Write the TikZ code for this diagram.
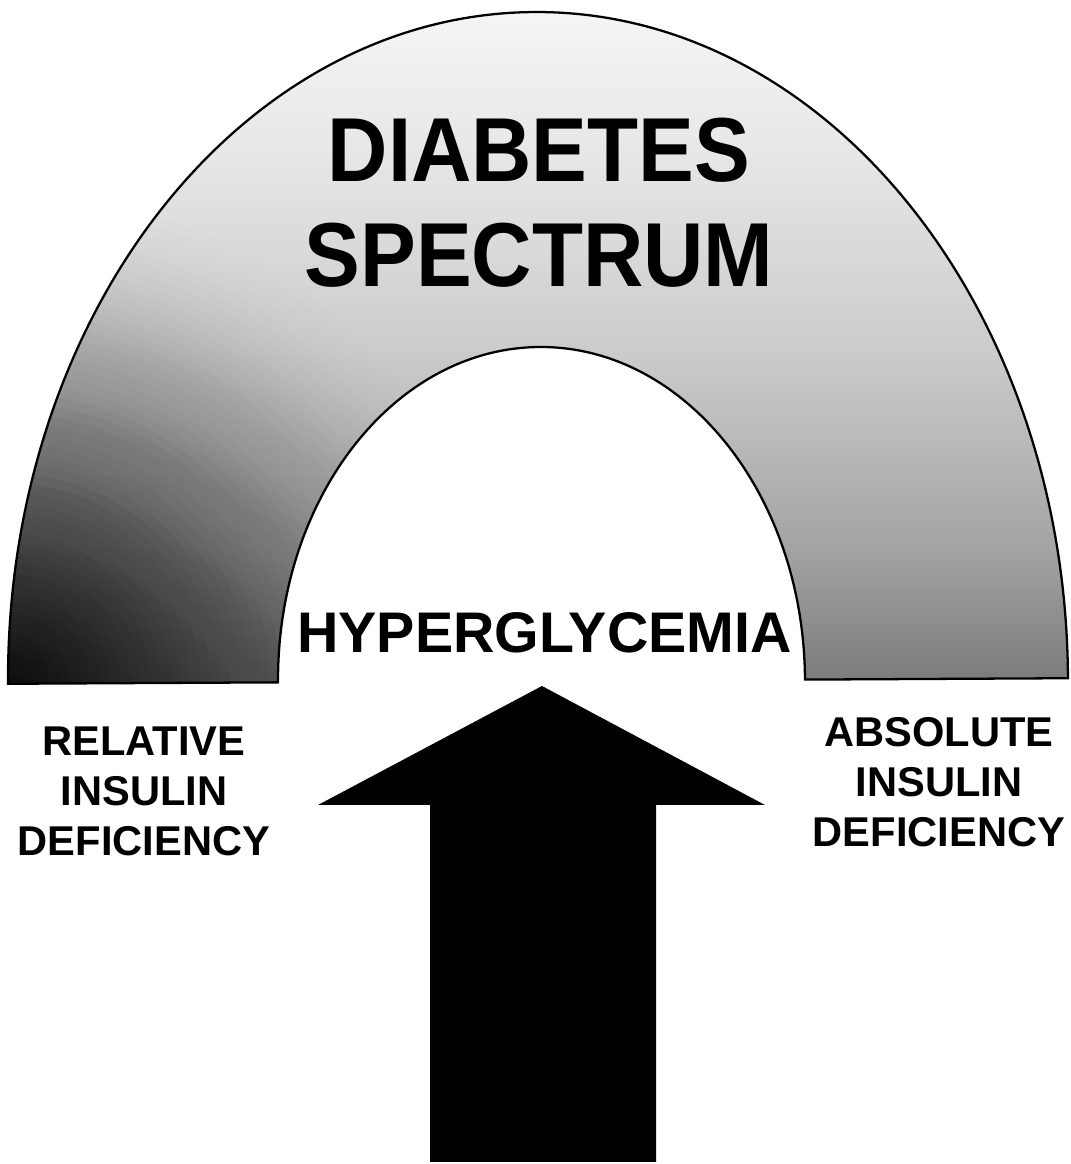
\documentclass[tikz,border=0pt]{standalone}
\usepackage{fontspec}
\setmainfont{Liberation Sans}
\pgfdeclareverticalshading{archshade}{100bp}{color(0bp)=(black!52); color(25bp)=(black!52);
  color(35bp)=(black!36); color(50bp)=(black!20); color(65bp)=(black!9); color(75bp)=(black!4);
  color(100bp)=(black!4)}
\tikzset{
  ringline/.style={line width=1.3pt, black},
  bigtxt/.style={font=\bfseries\fontsize{51.7}{59.5}\selectfont, align=center, xscale=0.92, inner sep=0pt},
  midtxt/.style={font=\bfseries\fontsize{32.6}{36}\selectfont, inner sep=0pt},
  sidetxt/.style={font=\bfseries\fontsize{23.7}{28.5}\selectfont, align=center, inner sep=0pt},
}

\begin{document}
\begin{tikzpicture}[x=0.02cm, y=0.02cm]
  \useasboundingbox (0,0) rectangle (1071,1164);
  % spectrum arch
  \begin{scope}[rotate around={0.3:(538,483)}]
    \begin{scope}
      \clip (8,483) arc[start angle=180, end angle=0, x radius=530, y radius=669]
        -- (805,483) arc[start angle=0, end angle=180, x radius=263.5, y radius=334] -- cycle;
      \shade[shading=archshade] (0,483) rectangle (1071,1152);
      % darker corner, lower left
      \foreach \r [evaluate=\r as \op using 0.05*(1-\r/520)] in {10,20,...,510}
        \fill[black, opacity=\op] (10,483) circle (\r);
    \end{scope}
    \draw[ringline] (8,483) arc[start angle=180, end angle=0, x radius=530, y radius=669]
      -- (805,483) arc[start angle=0, end angle=180, x radius=263.5, y radius=334] -- cycle;
  \end{scope}
  % big arrow
  \fill[black] (430,2) -- (430,359) -- (318,359) -- (542,478) -- (765,359)
    -- (656,359) -- (656,2) -- cycle;
  % labels
  \node[bigtxt] (title) at (539,961) {DIABETES\\SPECTRUM};
  \node[midtxt] (hyper) at (544.5,531) {HYPERGLYCEMIA};
  \node[sidetxt] (relative) at (144,372.5) {RELATIVE\\INSULIN\\DEFICIENCY};
  \node[sidetxt] (absolute) at (939,382) {ABSOLUTE\\INSULIN\\DEFICIENCY};
\end{tikzpicture}
\end{document}
